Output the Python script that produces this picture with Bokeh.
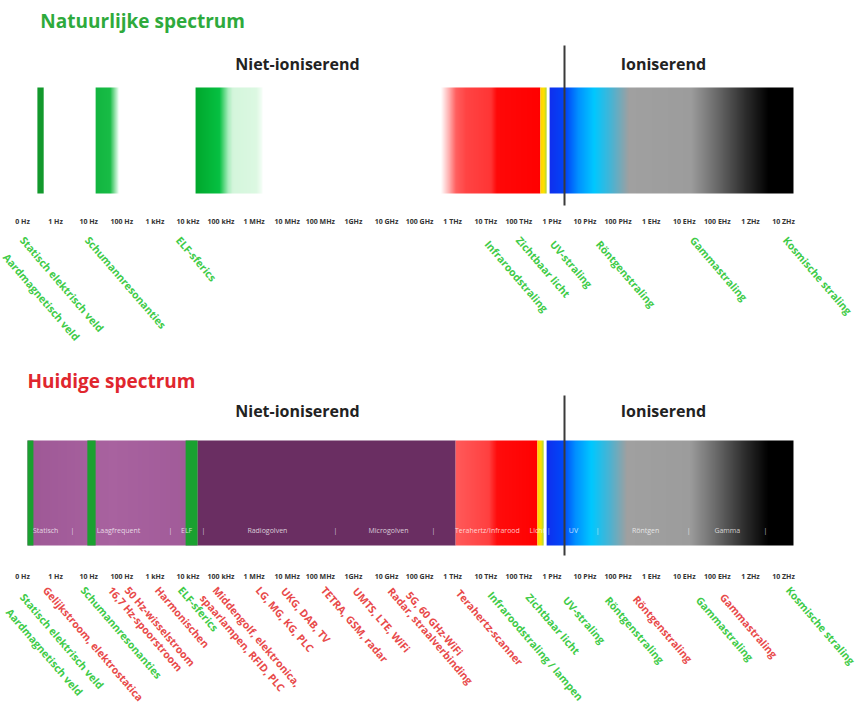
import numpy as np
from bokeh.plotting import figure
from bokeh.layouts import column
from bokeh.models import Range1d, LinearAxis, FixedTicker, ColumnDataSource
from bokeh.core.properties import value
from bokeh.embed import file_html
from bokeh.resources import INLINE

# ---------------- data ----------------
# x unit = one decade of frequency (0 Hz, 1 Hz, 10 Hz, ... 10 ZHz)
TICK_LABELS = ["0 Hz", "1 Hz", "10 Hz", "100 Hz", "1 kHz", "10 kHz", "100 kHz", "1 MHz",
               "10 MHz", "100 MHz", "1GHz", "10 GHz", "100 GHz", "1 THz", "10 THz", "100 THz",
               "1 PHz", "10 PHz", "100 PHz", "1 EHz", "10 EHz", "100 EHz", "1 ZHz", "10 ZHz"]

IONIZING_BOUNDARY = 16.38   # decade where ionising radiation starts

# band segments: start, end, colour stops (relative 0..1)
HIGH_STOPS = [(0.0, "#1030ee"), (0.066, "#0048f8"), (0.115, "#0090ff"), (0.18, "#00c8ff"),
              (0.25, "#48b4d4"), (0.324, "#a0a0a0"), (0.578, "#9c9c9c"), (0.68, "#6c6c6c"),
              (0.803, "#2c2c2c"), (0.898, "#000000"), (1.0, "#000000")]
YELLOW_STOPS = [(0.0, "#ffd400"), (0.6, "#ffe000"), (1.0, "#b8d830")]

NATURAL_SEGMENTS = [
    (0.45, 0.64, [(0.0, "#12992c"), (1.0, "#12992c")]),
    (2.21, 2.92, [(0.0, "#12b540"), (0.62, "#18bc46"), (1.0, "#f0fff4")]),
    (5.23, 7.25, [(0.0, "#00a82c"), (0.35, "#06c042"), (0.48, "#a8ecbc"), (0.55, "#d4f6dc"),
                  (0.9, "#dcf8e2"), (1.0, "#f8fffa")]),
    (12.63, 15.65, [(0.0, "#ffffff"), (0.08, "#ffb0b0"), (0.15, "#ff6060"), (0.25, "#ff4444"),
                    (0.5, "#ff3535"), (0.56, "#ff0808"), (1.0, "#ff0000")]),
    (15.65, 15.84, YELLOW_STOPS),
    (15.93, 23.30, HIGH_STOPS),
]

CURRENT_SEGMENTS = [
    (0.15, 5.29, [(0.0, "#9e5896"), (0.5, "#a8629f"), (1.0, "#a05a98")]),
    (5.29, 13.09, [(0.0, "#6a2e62"), (1.0, "#6a2e62")]),
    (13.09, 15.56, [(0.0, "#ff5a5a"), (0.4, "#ff4040"), (0.5, "#ff0c0c"), (1.0, "#ff0000")]),
    (15.56, 15.75, YELLOW_STOPS),
    (15.84, 23.30, HIGH_STOPS),
    (0.15, 0.33, [(0.0, "#1aa030"), (1.0, "#1aa030")]),
    (1.96, 2.21, [(0.0, "#1aa030"), (1.0, "#1aa030")]),
    (4.93, 5.29, [(0.0, "#1aa030"), (1.0, "#1aa030")]),
]

BAND_NAMES = ["Statisch", "|", "Laagfrequent", "|", "ELF", "|", "Radiogolven", "|", "Microgolven",
              "|", "Terahertz/Infrarood", "Licht", "|", "UV", "|", "Röntgen", "|", "Gamma", "|"]
BAND_NAME_X = [0.70, 1.51, 2.90, 4.47, 4.96, 5.47, 7.40, 9.46, 11.06,
               12.42, 14.05, 15.56, 15.90, 16.65, 17.38, 18.83, 20.13, 21.30, 22.45]

GREEN = "#3ecb48"
RED = "#e84a4a"

NATURAL_LABELS = ["Statisch elektrisch veld", "Aardmagnetisch veld", "Schumannresonanties", "ELF-sferics",
                  "Infraroodstraling", "Zichtbaar licht", "UV-straling", "Röntgenstraling",
                  "Gammastraling", "Kosmische straling"]
NATURAL_LABEL_X = [0.15, -0.36, 2.12, 4.87, 14.20, 15.14, 16.17, 17.56, 20.40, 23.21]
NATURAL_LABEL_DROP = [0, 17, 0, 0, 4, 0, 4, 4, 0, 0]

CURRENT_LABELS = ["Aardmagnetisch veld", "Statisch elektrisch veld", "Gelijkstroom, elektrostatica",
                  "Schumannresonanties", "16,7 Hz-spoorstroom", "50 Hz-wisselstroom", "Harmonischen",
                  "ELF-sferics", "spaarlampen, RFID, PLC", "Middengolf, elektronica,",
                  "LG, MG, KG, PLC", "UKG, DAB, TV", "TETRA, GSM, radar", "UMTS, LTE, WiFi",
                  "Radar, straalverbinding", "5G, 60 GHz-WiFi", "Terahertz-scanner",
                  "Infraroodstraling / lampen", "Zichtbaar licht", "UV-straling", "Röntgenstraling",
                  "Röntgenstraling", "Gammastraling", "Gammastraling", "Kosmische straling"]
CURRENT_LABEL_X = [-0.27, 0.15, 0.85, 1.99, 2.81, 3.32, 4.23, 4.93, 5.59, 5.98,
                   7.28, 8.04, 9.25, 10.21, 11.27, 11.82, 13.33, 14.29, 15.44, 16.56, 17.83,
                   18.68, 20.58, 21.31, 23.30]
CURRENT_LABEL_COLOR = ["g", "g", "r", "g", "r", "r", "r", "g", "r", "r", "r", "r", "r", "r",
                       "r", "r", "r", "g", "g", "g", "g", "r", "g", "r", "g"]
CURRENT_LABEL_DROP = [22, 7, 0, 0, 0, 0, 0, 0, 8, 0, 0, 1, 0, 1, 1, 5, 3, 5, 7, 10, 10, 9, 10, 7, 0]

# ---------------- layout ----------------
W = 863
X0, X1 = -0.665, 25.416
FONT = value("Open Sans")
ANGLE = -0.86
LABEL_SIZE = "10.5px"


def hex2rgb(h):
    h = h.lstrip("#")
    return [int(h[i:i + 2], 16) for i in (0, 2, 4)]


def gradient(stops, n):
    pos = np.array([s[0] for s in stops])
    cols = np.array([hex2rgb(s[1]) for s in stops], dtype=float)
    t = np.linspace(0, 1, n)
    img = np.empty((2, n), dtype=np.uint32)
    v = img.view(dtype=np.uint8).reshape((2, n, 4))
    for c in range(3):
        v[:, :, c] = np.interp(t, pos, cols[:, c]).round().astype(np.uint8)
    v[:, :, 3] = 255
    return img


def make_fig(h, band_lo, band_hi, segments, title, title_color, axis_loc, line_lo, line_hi, head_y, title_y, title_x):
    p = figure(width=W, height=h, x_range=Range1d(X0, X1), y_range=Range1d(0, h),
               output_backend="svg", toolbar_location=None, min_border=0,
               x_axis_type=None, y_axis_type=None)
    p.grid.visible = False
    p.outline_line_color = None
    p.background_fill_color = "white"
    p.border_fill_color = "white"

    for (a, b, stops) in segments:
        n = max(2, int(round((b - a) * 33.09)))
        p.image_rgba(image=[gradient(stops, n)], x=a, y=band_lo, dw=b - a, dh=band_hi - band_lo)

    p.segment(x0=[IONIZING_BOUNDARY], y0=[line_lo], x1=[IONIZING_BOUNDARY], y1=[line_hi],
              line_color="#3a3a3a", line_width=2)

    p.text(x=[title_x], y=[title_y], text=[title], text_color=title_color, text_font=FONT,
           text_font_style="bold", text_font_size="19px", text_align="left", text_baseline="middle")
    p.text(x=[8.31, 19.37], y=[head_y, head_y], text=["Niet-ioniserend", "Ioniserend"],
           text_color="#222222", text_font=FONT, text_font_style="bold", text_font_size="16px",
           text_align="center", text_baseline="middle")

    ax = LinearAxis(fixed_location=axis_loc, ticker=FixedTicker(ticks=list(range(len(TICK_LABELS)))),
                    major_label_overrides={i: t for i, t in enumerate(TICK_LABELS)},
                    axis_line_color=None, major_tick_line_color=None, minor_tick_line_color=None,
                    major_label_standoff=2, major_label_text_font_size="7px",
                    major_label_text_font_style="bold", major_label_text_color="#333333",
                    major_label_text_font="Open Sans")
    p.add_layout(ax, "below")
    return p


# top: natural spectrum
H1 = 353
p1 = make_fig(H1, 160, 266, NATURAL_SEGMENTS, "Natuurlijke spectrum", "#2eaa3c", 145, 148, 308, 290, 333, 0.54)
src1 = ColumnDataSource(dict(x=NATURAL_LABEL_X, y=[120 - d for d in NATURAL_LABEL_DROP], text=NATURAL_LABELS))
p1.text(x="x", y="y", text="text", source=src1, angle=ANGLE, text_color=GREEN, text_font=FONT,
        text_font_style="bold", text_font_size=LABEL_SIZE, text_align="left", text_baseline="top")

# bottom: current spectrum
H2 = 354
p2 = make_fig(H2, 162, 267, CURRENT_SEGMENTS, "Huidige spectrum", "#e0262e", 144, 152, 312, 297, 327, 0.15)
p2.text(x=BAND_NAME_X, y=[177] * len(BAND_NAME_X), text=BAND_NAMES, text_color="white", text_alpha=0.75,
        text_font=FONT, text_font_size="7px", text_align="center", text_baseline="middle")
src2 = ColumnDataSource(dict(x=CURRENT_LABEL_X, y=[124 - d for d in CURRENT_LABEL_DROP], text=CURRENT_LABELS,
                             color=[GREEN if c == "g" else RED for c in CURRENT_LABEL_COLOR]))
p2.text(x="x", y="y", text="text", source=src2, angle=ANGLE, text_color="color", text_font=FONT,
        text_font_style="bold", text_font_size=LABEL_SIZE, text_align="left", text_baseline="top")

layout = column(p1, p2, spacing=0)
open("out.html", "w").write(file_html(layout, INLINE))
